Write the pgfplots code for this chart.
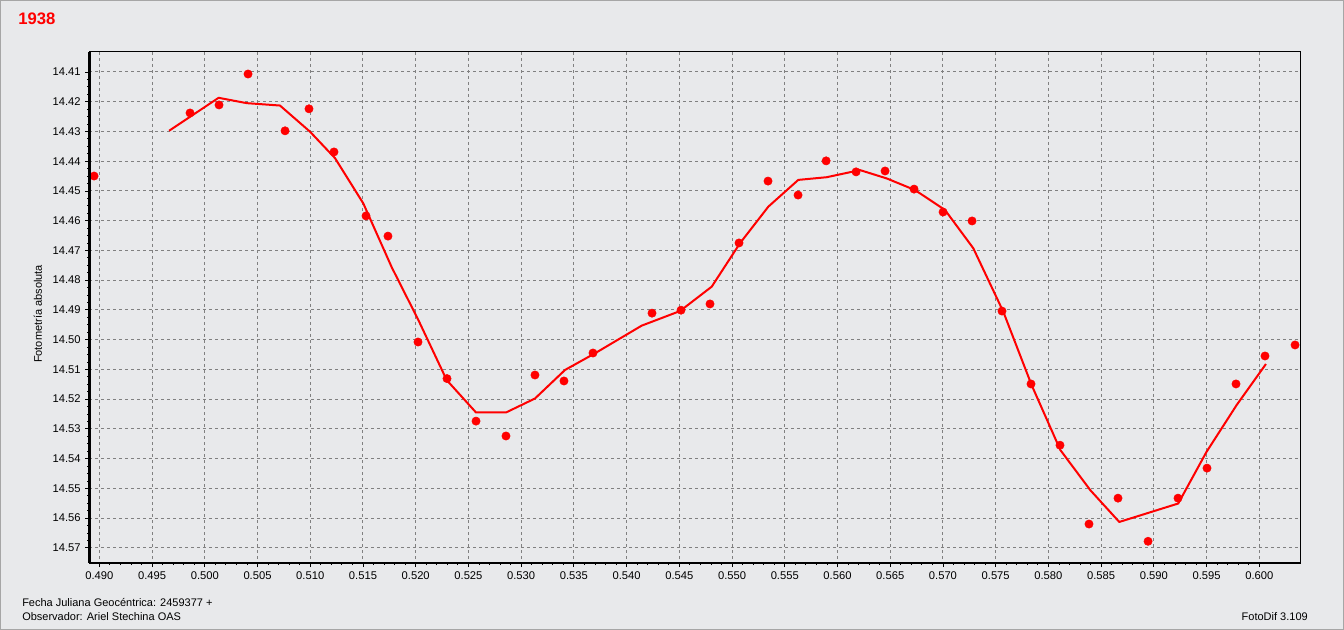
\documentclass[border=0pt]{standalone}
\usepackage{pgfplots}
\pgfplotsset{compat=1.18}
\usepackage{fontspec}
\setmainfont{Liberation Sans}
\definecolor{bg}{RGB}{232,233,235}
\definecolor{gridgray}{RGB}{128,128,128}
\definecolor{rred}{RGB}{255,0,0}
\begin{document}
\begin{tikzpicture}
\fill[bg] (0,0) rectangle (1008pt,472.5pt);
\draw[color=gray!70, line width=0.75pt] (0.375pt,0.375pt) rectangle (1007.625pt,472.125pt);
\begin{axis}[
  name=ax,
  at={(67pt,50.25pt)}, anchor=south west,
  scale only axis, width=908pt, height=383.25pt,
  xmin=0.48905, xmax=0.60386,
  ymin=14.4033, ymax=14.5751,
  y dir=reverse,
  clip=false,
  axis background/.style={fill=bg},
  axis line style={black, line width=0.75pt},
  xtick={0.490,0.495,0.500,0.505,0.510,0.515,0.520,0.525,0.530,0.535,0.540,0.545,0.550,0.555,0.560,0.565,0.570,0.575,0.580,0.585,0.590,0.595,0.600},
  ytick={14.41,14.42,14.43,14.44,14.45,14.46,14.47,14.48,14.49,14.50,14.51,14.52,14.53,14.54,14.55,14.56,14.57},
  minor x tick num=4, minor y tick num=3,
  xtick pos=left, ytick pos=left,
  tick align=outside,
  major tick length=3pt, minor tick length=1.5pt,
  every tick/.style={black, line width=0.6pt},
  xmajorgrids=true, ymajorgrids=true, xminorgrids=false, yminorgrids=false,
  major grid style={gridgray, line width=0.75pt, dash pattern=on 2.25pt off 2.25pt},
  xticklabel style={font=\fontsize{8.4}{10}\selectfont, /pgf/number format/.cd, fixed, fixed zerofill, precision=3, assume math mode=true},
  yticklabel style={font=\fontsize{8.4}{10}\selectfont, /pgf/number format/.cd, fixed, fixed zerofill, precision=2, assume math mode=true},
  scaled x ticks=false, scaled y ticks=false,
]
\addplot[only marks, mark=*, mark size=3.1pt, color=rred, mark options={fill=rred, draw=rred}] coordinates {
(0.48950,14.4450) (0.49860,14.4238) (0.50135,14.4211) (0.50410,14.4107)
(0.50761,14.4298) (0.50988,14.4224) (0.51225,14.4369) (0.51529,14.4584)
(0.51737,14.4652) (0.52022,14.5008) (0.52297,14.5131) (0.52572,14.5274)
(0.52856,14.5324) (0.53131,14.5119) (0.53406,14.5139) (0.53681,14.5045)
(0.54241,14.4911) (0.54516,14.4901) (0.54791,14.4880) (0.55066,14.4675)
(0.55341,14.4467) (0.55626,14.4514) (0.55892,14.4399) (0.56176,14.4436)
(0.56451,14.4433) (0.56726,14.4494) (0.57001,14.4571) (0.57276,14.4601)
(0.57560,14.4904) (0.57835,14.5149) (0.58110,14.5355) (0.58385,14.5620)
(0.58660,14.5533) (0.58945,14.5678) (0.59229,14.5533) (0.59504,14.5432)
(0.59779,14.5149) (0.60054,14.5055) (0.60339,14.5018)
};
\addplot[color=rred, line width=1.5pt, line join=round, mark=none] coordinates {
(0.49661,14.4298) (0.50131,14.4187) (0.50398,14.4205) (0.50713,14.4213)
(0.50998,14.4301) (0.51235,14.4390) (0.51503,14.4542) (0.51773,14.4757)
(0.52025,14.4934) (0.52294,14.5136) (0.52572,14.5245) (0.52856,14.5245)
(0.53131,14.5198) (0.53416,14.5102) (0.53700,14.5046) (0.54143,14.4953)
(0.54506,14.4904) (0.54807,14.4822) (0.55075,14.4676) (0.55344,14.4553)
(0.55628,14.4463) (0.55897,14.4454) (0.56213,14.4430) (0.56466,14.4458)
(0.56734,14.4497) (0.57019,14.4564) (0.57288,14.4693) (0.57572,14.4906)
(0.57841,14.5153) (0.58113,14.5371) (0.58397,14.5506) (0.58672,14.5613)
(0.59231,14.5551) (0.59500,14.5377) (0.59785,14.5220) (0.60063,14.5082)
};
\end{axis}
\draw[black, line width=2pt] (ax.south west) -- (ax.north west);
\draw[black, line width=2pt] (ax.south west) -- (ax.south east);
\node[anchor=west, text=rred, font=\fontsize{12.5}{15}\selectfont\bfseries, inner sep=0pt] at (13.5pt,458.25pt) {1938};
\node[anchor=west, font=\fontsize{8.25}{10}\selectfont, inner sep=0pt] at (16.5pt,20.25pt) {Fecha Juliana Geocéntrica: 2459377 +};
\node[anchor=west, font=\fontsize{8.25}{10}\selectfont, inner sep=0pt] at (16.5pt,9.75pt) {Observador: Ariel Stechina OAS};
\node[anchor=east, font=\fontsize{8.25}{10}\selectfont, inner sep=0pt] at (981pt,9.75pt) {FotoDif 3.109};
\node[rotate=90, font=\fontsize{8.25}{10}\selectfont, inner sep=0pt] at (28.5pt,237pt) {Fotometría absoluta};
\end{tikzpicture}
\end{document}
